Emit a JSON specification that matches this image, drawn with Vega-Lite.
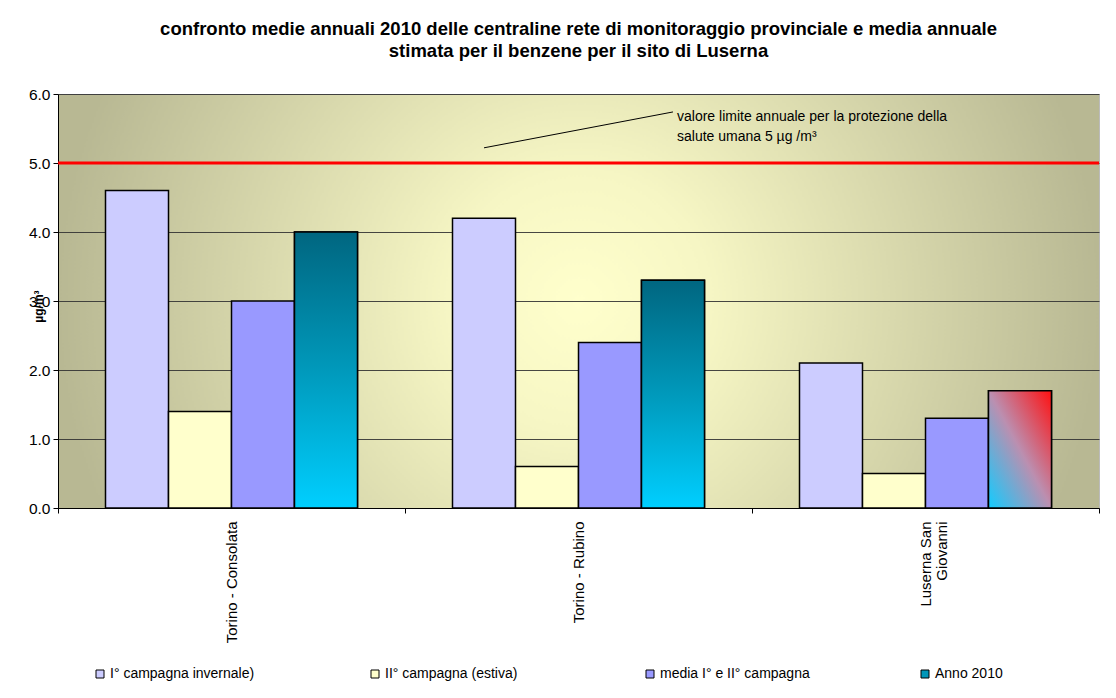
{
  "$schema": "https://vega.github.io/schema/vega-lite/v6.json",
  "width": 1041,
  "height": 414,
  "autosize": {"type": "none"},
  "padding": {"left": 58, "top": 94, "right": 17, "bottom": 190},
  "background": "white",
  "title": {
    "text": ["confronto medie annuali 2010 delle centraline rete di monitoraggio provinciale e media annuale", "stimata  per il benzene per il sito di Luserna"],
    "font": "Liberation Sans",
    "fontSize": 18.5,
    "fontWeight": "bold",
    "color": "black",
    "anchor": "middle",
    "lineHeight": 22,
    "offset": 27
  },
  "datasets": {
    "main": [
      {"sito": "Torino - Consolata", "serie": "I° campagna invernale)", "v": 4.6},
      {"sito": "Torino - Consolata", "serie": "II° campagna (estiva)", "v": 1.4},
      {"sito": "Torino - Consolata", "serie": "media I° e II° campagna", "v": 3.0},
      {"sito": "Torino - Consolata", "serie": "Anno 2010", "v": 4.0},
      {"sito": "Torino - Rubino", "serie": "I° campagna invernale)", "v": 4.2},
      {"sito": "Torino - Rubino", "serie": "II° campagna (estiva)", "v": 0.6},
      {"sito": "Torino - Rubino", "serie": "media I° e II° campagna", "v": 2.4},
      {"sito": "Torino - Rubino", "serie": "Anno 2010", "v": 3.3},
      {"sito": "Luserna San Giovanni", "serie": "I° campagna invernale)", "v": 2.1},
      {"sito": "Luserna San Giovanni", "serie": "II° campagna (estiva)", "v": 0.5},
      {"sito": "Luserna San Giovanni", "serie": "media I° e II° campagna", "v": 1.3},
      {"sito": "Luserna San Giovanni", "serie": "Anno 2010", "v": 1.7}
    ],
    "arrow": [
      {"sito": "Torino - Rubino", "serie": "I° campagna invernale)", "v": 5.22},
      {"sito": "Torino - Rubino", "serie": "Anno 2010", "v": 5.74}
    ],
    "note": [
      {"sito": "Torino - Rubino", "serie": "Anno 2010", "v": 5.665, "t": "valore limite annuale per la protezione della\nsalute umana 5 µg /m³"}
    ]
  },
  "encoding": {
    "x": {
      "field": "sito",
      "type": "nominal",
      "sort": ["Torino - Consolata", "Torino - Rubino", "Luserna San Giovanni"],
      "scale": {"domain": ["Torino - Consolata", "Torino - Rubino", "Luserna San Giovanni"], "paddingInner": 0, "paddingOuter": 0},
      "axis": {
        "title": null,
        "labelAngle": -90,
        "labelFont": "Liberation Sans",
        "labelFontSize": 15,
        "labelColor": "black",
        "labelPadding": 8,
        "labelLineHeight": 16,
        "labelExpr": "datum.label == 'Luserna San Giovanni' ? ['Luserna San', 'Giovanni'] : datum.label",
        "tickBand": "extent",
        "tickColor": "black",
        "tickSize": 5,
        "domainColor": "black",
        "grid": false
      }
    },
    "xOffset": {
      "field": "serie",
      "type": "nominal",
      "scale": {"domain": ["I° campagna invernale)", "II° campagna (estiva)", "media I° e II° campagna", "Anno 2010"], "paddingInner": 0, "paddingOuter": 0.754}
    },
    "y": {
      "field": "v",
      "type": "quantitative",
      "scale": {"domain": [0, 6], "nice": false},
      "axis": {
        "title": "µg/m³",
        "titleFont": "Liberation Sans",
        "titleFontSize": 12,
        "titleFontWeight": "bold",
        "titleColor": "black",
        "titleX": -20,
        "titleY": 212,
        "titleAlign": "center",
        "titleBaseline": "middle",
        "values": [0, 1, 2, 3, 4, 5, 6],
        "format": ".1f",
        "labelFont": "Liberation Sans",
        "labelFontSize": 15.5,
        "labelColor": "black",
        "labelPadding": 3,
        "tickColor": "black",
        "tickSize": 5,
        "domainColor": "black",
        "gridColor": "#333333",
        "gridWidth": 1,
        "gridOpacity": 0.9
      }
    }
  },
  "layer": [
    {
      "data": {"name": "main"},
      "mark": {"type": "bar", "stroke": "black", "strokeWidth": 1.5},
      "encoding": {
        "color": {
          "field": "serie",
          "type": "nominal",
          "scale": {
            "domain": ["I° campagna invernale)", "II° campagna (estiva)", "media I° e II° campagna", "Anno 2010"],
            "range": ["#CCCCFF", "#FFFFCC", "#9999FF", "#0096B8"]
          },
          "legend": {
            "title": null,
            "orient": "none",
            "legendX": 35,
            "legendY": 573,
            "direction": "horizontal",
            "columns": 4,
            "gridAlign": "all",
            "columnPadding": 108,
            "padding": 0,
            "symbolType": "square",
            "symbolSize": 64,
            "symbolStrokeColor": "black",
            "symbolStrokeWidth": 1,
            "symbolOpacity": 1,
            "labelFont": "Liberation Sans",
            "labelFontSize": 14,
            "labelColor": "black",
            "labelOffset": 3,
            "labelLimit": 300
          }
        }
      }
    },
    {
      "data": {"name": "main"},
      "transform": [{"filter": "datum.serie == 'Anno 2010' && datum.sito != 'Luserna San Giovanni'"}],
      "mark": {
        "type": "bar",
        "stroke": "black",
        "strokeWidth": 1.5,
        "fill": {"gradient": "linear", "x1": 0, "y1": 0, "x2": 0, "y2": 1, "stops": [{"offset": 0, "color": "#006680"}, {"offset": 0.5, "color": "#0099BB"}, {"offset": 1, "color": "#00CFFF"}]}
      }
    },
    {
      "data": {"name": "main"},
      "transform": [{"filter": "datum.serie == 'Anno 2010' && datum.sito == 'Luserna San Giovanni'"}],
      "mark": {
        "type": "bar",
        "stroke": "black",
        "strokeWidth": 1.5,
        "fill": {"gradient": "linear", "x1": 0, "y1": 1, "x2": 1, "y2": 0, "stops": [{"offset": 0, "color": "#11CCFF"}, {"offset": 0.5, "color": "#BB8FB0"}, {"offset": 1, "color": "#FF1010"}]}
      }
    },
    {
      "data": {"values": [{"limite": 5}]},
      "mark": {"type": "rule", "color": "#FF0000", "strokeWidth": 3},
      "encoding": {"x": null, "xOffset": null, "y": {"field": "limite", "type": "quantitative"}}
    },
    {
      "data": {"name": "arrow"},
      "mark": {"type": "line", "color": "black", "strokeWidth": 1},
      "encoding": {"color": {"value": "black"}}
    },
    {
      "data": {"name": "note"},
      "mark": {"type": "text", "align": "left", "baseline": "middle", "dx": 4, "font": "Liberation Sans", "fontSize": 14, "color": "black", "lineBreak": "\n", "lineHeight": 20},
      "encoding": {"text": {"field": "t"}}
    }
  ],
  "config": {
    "view": {
      "stroke": "#BBBBBB",
      "fill": {"gradient": "radial", "x1": 0.5, "y1": 0.5, "r1": 0, "x2": 0.5, "y2": 0.5, "r2": 0.5, "stops": [{"offset": 0, "color": "#FFFFCC"}, {"offset": 0.25, "color": "#F6F6C4"}, {"offset": 1, "color": "#B8B893"}]}
    }
  }
}
